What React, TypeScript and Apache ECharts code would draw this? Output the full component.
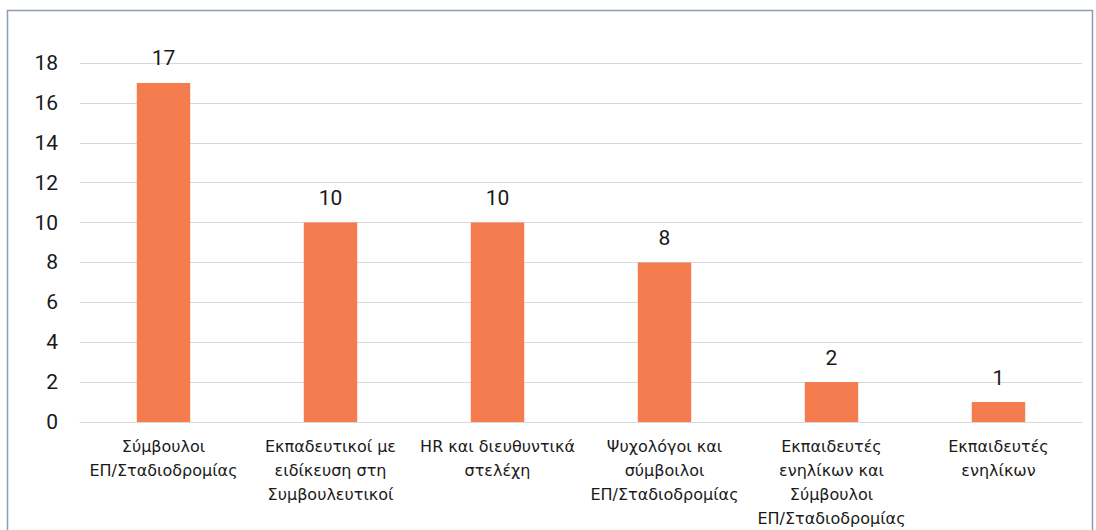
import React, { useEffect, useRef } from "react";
import * as echarts from "echarts";

const categories = [
  "Σύμβουλοι\nΕΠ/Σταδιοδρομίας",
  "Εκπαδευτικοί με\nειδίκευση στη\nΣυμβουλευτικοί",
  "HR και διευθυντικά\nστελέχη",
  "Ψυχολόγοι και\nσύμβοιλοι\nΕΠ/Σταδιοδρομίας",
  "Εκπαιδευτές\nενηλίκων και\nΣύμβουλοι\nΕΠ/Σταδιοδρομίας",
  "Εκπαιδευτές\nενηλίκων",
];
const counts = [17, 10, 10, 8, 2, 1];
const yTicks = { min: 0, max: 18, interval: 2 };

const FONT = "Roboto, 'DejaVu Sans', sans-serif";
const LABEL_FONT = "'DejaVu Sans', sans-serif";

export default function App() {
  const ref = useRef<HTMLDivElement>(null);

  useEffect(() => {
    if (!ref.current) return;
    const chart = echarts.init(ref.current, null, { renderer: "svg" });
    chart.setOption({
      animation: false,
      backgroundColor: "#ffffff",
      graphic: [
        {
          type: "rect",
          shape: { x: 7.5, y: 10.5, width: 1085, height: 560 },
          style: { fill: "none", stroke: "#8c9db3", lineWidth: 1.5 },
          silent: true,
        },
      ],
      grid: { left: 80, right: 14, top: 63, bottom: 107 },
      xAxis: {
        type: "category",
        data: categories,
        axisLine: { show: true, lineStyle: { color: "#d9d9d9", width: 1 } },
        axisTick: { show: false },
        axisLabel: {
          interval: 0,
          color: "#1a1a1a",
          fontFamily: LABEL_FONT,
          fontSize: 16,
          lineHeight: 24,
          margin: 12,
        },
      },
      yAxis: {
        type: "value",
        min: yTicks.min,
        max: yTicks.max,
        interval: yTicks.interval,
        axisLine: { show: false },
        axisTick: { show: false },
        splitLine: { lineStyle: { color: "#d9d9d9", width: 1 } },
        axisLabel: {
          color: "#1a1a1a",
          fontFamily: FONT,
          fontSize: 21,
          margin: 22,
        },
      },
      series: [
        {
          type: "bar",
          data: counts,
          barWidth: "32%",
          itemStyle: { color: "#f47c4f" },
          label: {
            show: true,
            position: "top",
            distance: 14,
            color: "#1a1a1a",
            fontFamily: FONT,
            fontSize: 21,
          },
        },
      ],
    });
    return () => chart.dispose();
  }, []);

  return (
    <div
      ref={ref}
      style={{ position: "fixed", left: 0, top: 0, width: 1096, height: 530 }}
    />
  );
}
